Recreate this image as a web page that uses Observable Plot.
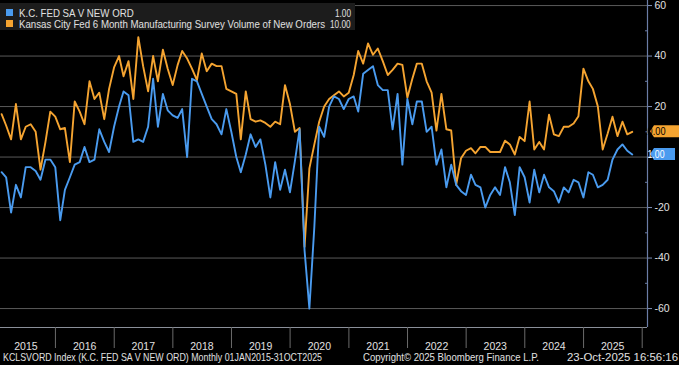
<!DOCTYPE html>
<html><head><meta charset="utf-8">
<script src="https://cdn.jsdelivr.net/npm/d3@7"></script>
<script src="https://cdn.jsdelivr.net/npm/@observablehq/plot@0.6"></script>
<style>
body{margin:0;background:#000;}
#wrap{position:relative;width:679px;height:365px;background:#000;overflow:hidden;font-family:"Liberation Sans",Arial,sans-serif;color:#e0e0e0;}
#legend{position:absolute;left:0;top:3px;width:355px;height:27px;background:#1c1c1c;font-size:11.5px;}
.row{position:absolute;left:6px;width:345px;height:12px;line-height:12px;white-space:nowrap;}
.sw{position:absolute;left:0;top:2px;width:7px;height:7px;}
.lbl,.val{position:absolute;top:0;display:inline-block;transform-origin:0 50%;}
.lbl{left:13px;}
#footer{position:absolute;left:0;top:352px;width:679px;height:12px;font-size:11px;line-height:11px;white-space:nowrap;}
#footer span{position:absolute;top:0;display:inline-block;line-height:11px;transform-origin:0 50%;}
</style></head>
<body><div id="wrap"><div id="chart"></div><div id="legend"></div><div id="footer"></div></div>
<script>
const seriesNames = ["K.C. FED SA V NEW ORD", "Kansas City Fed 6 Month Manufacturing Survey Volume of New Orders"];
const lastLabels = ["1.00", "10.00"];
const seriesColors = ["#4a9bef", "#f5a431"];
const startYear = 2015;
// Monthly, Jan 2015 .. Oct 2025
const kcNewOrders = [
  -6, -8, -22, -11, -16, -4, -4, -5.5, -9, -1, -1, -4,
  -25, -13, -8, -3, -2, 4, -2, -1, 11, 6, 2, 12,
  20, 26, 24.5, 6, 7, 6, 12, 31, 12, 25, 18.5, 16.5,
  15.5, 19, 0, 31, 30, 25, 20, 15, 13, 9, 19, 10,
  0, -6, 1, 9, 4, 7, -3, -16, -2, -13, -5, -14,
  -1.5, 11, -37, -60, -27.5, 12, 8, 20, 24, 23, 19, 23,
  24, 18, 33, 34.5, 36, 28.5, 26.5, 26.5, 11, 25, -3, 23,
  13, 22, 22, 10, 12, -3, 3, -12, -3, -11, -13.5, -15,
  -7, -11, -12, -20, -15, -12, -15, -4, -10, -23, -4, -8,
  -18, -5, -14, -7, -12, -13.5, -18, -12, -14, -9, -10, -16,
  -6, -7, -12, -11, -9, -1, 3, 5, 2.5, 1
];
const kc6mNewOrders = [
  17, 12.5, 7, 21, 7, 12, 13, 10, -5, 6, 18, 16,
  11, 11.5, -2, 22, 18, 13, 30, 23, 25.5, 15, 27, 35.5,
  40, 32, 38, 23, 47.5, 36, 26, 40, 30, 42.5, 35, 28.5,
  36.5, 42, 39, 35, 30.5, 41, 34, 37, 36, 36, 27, 26,
  25, 7, 26, 15, 14, 14.5, 13.5, 12, 14, 13, 28.5, 21,
  10, 11.5, -35.5, -4.5, 5, 14, 20, 23, 24.5, 26, 24, 25.5,
  32.5, 42, 37, 45, 40.5, 43, 38, 32.5, 34.5, 37, 36.5, 23.5,
  31, 37, 37, 30, 25.5, 10.5, 25, 11, 10.5, -11, -0.5, 2.5,
  3.5, 1.5, 4, 4, 2, 2, 2, 6.5, 5, 1, 8, 6.3,
  22, 3, 6, 3, 16.8, 9, 8.3, 12, 12, 13.3, 16.2, 35,
  30, 27, 20, 3, 9.3, 16, 8.3, 14, 9, 10
];
const lastValues = [1, 10];
const yearLabels = [2015, 2016, 2017, 2018, 2019, 2020, 2021, 2022, 2023, 2024, 2025];
const yTicks = [-60, -40, -20, 0, 20, 40, 60];
const yMinorTicks = [-50, -30, -10, 10, 30, 50];
const footerTexts = [
  "KCLSVORD Index (K.C. FED SA V NEW ORD) Monthly 01JAN2015-31OCT2025",
  "Copyright\u00A9 2025 Bloomberg Finance L.P.",
  "23-Oct-2025 16:56:16"
];

const monthEnd = i => new Date(Date.UTC(startYear, i + 1, 0));
const rowsBlue = kcNewOrders.map((v, i) => ({date: monthEnd(i), value: v}));
const rowsOrange = kc6mNewOrders.map((v, i) => ({date: monthEnd(i), value: v}));
const yearStarts = yearLabels.slice(1).concat([2026]).map(y => new Date(Date.UTC(y, 0, 1)));
const yearMids = yearLabels.map(y => new Date(Date.UTC(y, 6, 1)));

const xDomain = [new Date(Date.UTC(2015, 0, 24)), new Date(Date.UTC(2026, 1, 3))];
const yDomain = [-67.5, 62];
const font = '"Liberation Sans",Arial,sans-serif';

const plot = Plot.plot({
  width: 679, height: 350,
  marginTop: 0, marginBottom: 23, marginLeft: 0, marginRight: 32,
  style: {background: "#000", color: "#e0e0e0", fontFamily: font, fontSize: "11px", overflow: "visible"},
  x: {type: "utc", domain: xDomain, label: null},
  y: {domain: yDomain, label: null},
  marks: [
    Plot.ruleY(yTicks, {stroke: "#5a5a5a", strokeWidth: 1}),
    Plot.line(rowsOrange, {x: "date", y: "value", stroke: seriesColors[1], strokeWidth: 1.9}),
    Plot.line(rowsBlue, {x: "date", y: "value", stroke: seriesColors[0], strokeWidth: 1.9}),
    Plot.ruleY([yDomain[0]], {stroke: "#8a8f99", strokeWidth: 1}),
    Plot.ruleX([xDomain[1]], {stroke: "#6b7da6", strokeWidth: 1.2}),
    Plot.axisY(yTicks, {anchor: "right", label: null, tickSize: 4, tickPadding: 3, stroke: "#7d8fb8", fill: "#e0e0e0", fontSize: 10.5, tickFormat: d => d === 0 ? "" : String(d)}),
    Plot.axisY(yMinorTicks, {anchor: "right", label: null, tickSize: -3, stroke: "#6b7da6", tickFormat: () => ""}),
    Plot.axisX(yearStarts, {anchor: "bottom", label: null, tickSize: 21, stroke: "#6a6a6a", tickFormat: () => ""}),
    Plot.axisX(yearMids, {anchor: "bottom", label: null, tickSize: 0, tickPadding: 15, fill: "#e0e0e0", fontSize: 10.5, tickFormat: d => String(d.getUTCFullYear())})
  ]
});
document.getElementById("chart").appendChild(plot);

// last-value tags on right axis
const ys = plot.scale("y");
const svg = d3.select(plot);
const tagDefs = [
  {v: lastValues[1], label: lastLabels[1], fill: seriesColors[1], text: "#000", right: 679, tx: 654, len: 23},
  {v: lastValues[0], label: lastLabels[0], fill: seriesColors[0], text: "#ffffff", right: 675, tx: 656, len: 17}
];
for (const t of tagDefs) {
  const cy = ys.apply(t.v);
  const x0 = 650;
  svg.append("path")
    .attr("d", `M${x0},${cy}L${x0 + 4},${cy - 6}L${t.right},${cy - 6}L${t.right},${cy + 6}L${x0 + 4},${cy + 6}Z`)
    .attr("fill", t.fill);
  svg.append("text")
    .attr("x", t.tx).attr("y", cy).attr("dy", "0.36em")
    .attr("fill", t.text).attr("font-size", 10.5).attr("font-family", font)
    .attr("textLength", t.len).attr("lengthAdjust", "spacingAndGlyphs")
    .text(t.label);
}

// legend
const legend = document.getElementById("legend");
seriesNames.forEach((name, i) => {
  const row = document.createElement("div");
  row.className = "row";
  row.style.top = (i === 0 ? 4 : 15) + "px";
  row.innerHTML = `<span class="sw" style="background:${seriesColors[i]}"></span><span class="lbl">${name}</span><span class="val">${lastLabels[i]}</span>`;
  legend.appendChild(row);
});
const lbls = legend.querySelectorAll(".lbl");
const longW = lbls[1].getBoundingClientRect().width;
const lgScale = 306 / longW;
lbls.forEach(el => el.style.transform = `scaleX(${lgScale})`);
legend.querySelectorAll(".val").forEach(el => {
  const w = el.getBoundingClientRect().width;
  const s = lgScale * 0.85;
  el.style.transform = `scaleX(${s})`;
  el.style.left = (345 - w * s) + "px";
});

// footer
const footer = document.getElementById("footer");
const fLeft = [3, 363, null];
const fWidth = [319, 176, 111];
footerTexts.forEach((t, i) => {
  const s = document.createElement("span");
  s.textContent = t;
  footer.appendChild(s);
  const w = s.getBoundingClientRect().width;
  s.style.transform = `scaleX(${fWidth[i] / w})`;
  s.style.left = (fLeft[i] === null ? 678 - fWidth[i] : fLeft[i]) + "px";
});
</script>
</body></html>
